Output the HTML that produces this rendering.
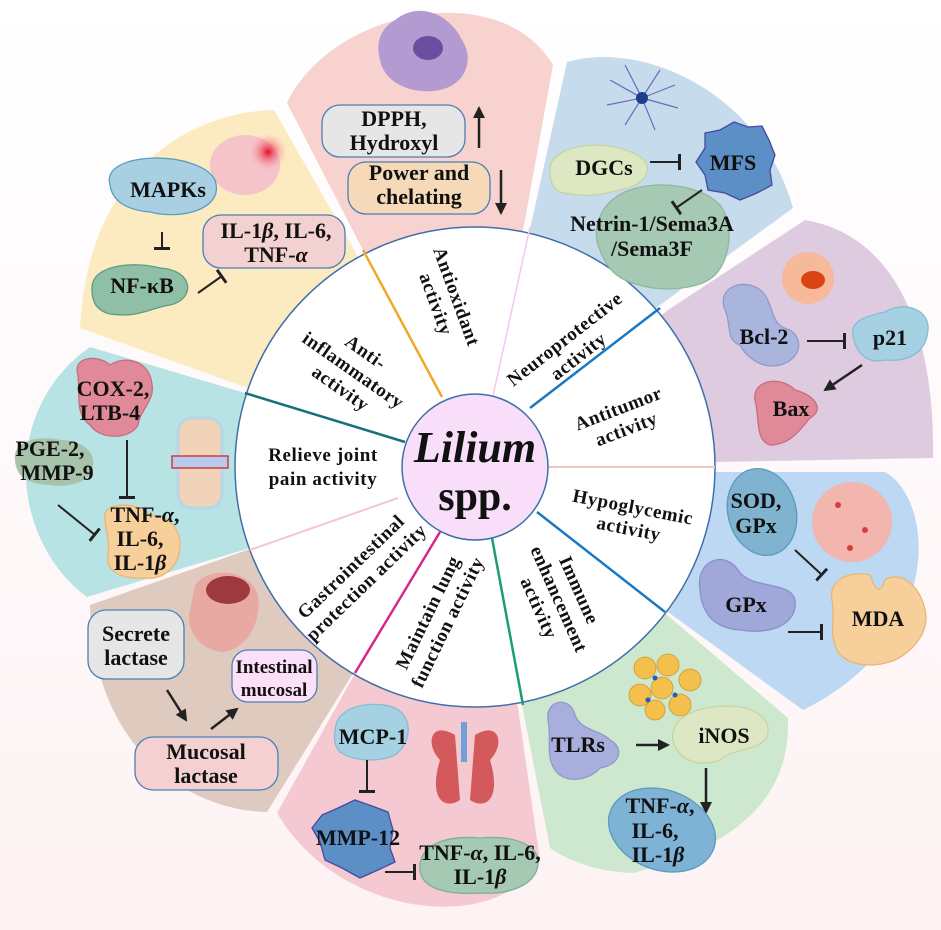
<!DOCTYPE html>
<html><head><meta charset="utf-8"><style>
html,body{margin:0;padding:0;background:#fff}
svg{display:block}
text{font-family:"Liberation Serif",serif;font-weight:bold;fill:#111}
</style></head><body>
<svg width="941" height="930" viewBox="0 0 941 930" xmlns="http://www.w3.org/2000/svg">
<defs>
<linearGradient id="bg" x1="0" y1="0" x2="0" y2="1"><stop offset="0" stop-color="#ffffff"/><stop offset="0.4" stop-color="#fefafb"/><stop offset="1" stop-color="#fdf2f4"/></linearGradient>
<radialGradient id="red" cx="0.5" cy="0.5" r="0.5"><stop offset="0" stop-color="#e8102a"/><stop offset="1" stop-color="#f7c6cc" stop-opacity="0"/></radialGradient>
<marker id="ar2" markerWidth="12" markerHeight="12" refX="10" refY="6" orient="auto" markerUnits="userSpaceOnUse"><path d="M0,0 L12,6 L0,12 Z" fill="#222"/></marker>
<marker id="bar" markerWidth="4" markerHeight="16" refX="2" refY="8" orient="auto" markerUnits="userSpaceOnUse"><rect x="0" y="0" width="3" height="16" fill="#222"/></marker>
</defs>
<rect width="941" height="930" fill="url(#bg)"/>

<!-- petals -->
<path d="M80,328 C88,170 190,112 274,110 L353,248 L475,467 L245,387 Z" fill="#fcebc0"/>
<path d="M287,103 C330,10 500,-25 553,65 L525,220 L475,467 Z" fill="#f7d2cf"/>
<path d="M567,62 C640,40 760,90 793,208 L660,305 L475,467 L532,220 Z" fill="#c6dbeb"/>
<path d="M668,310 L805,220 C895,235 935,330 933,458 L715,462 L475,467 Z" fill="#dfcbe0"/>
<path d="M717,472 L885,472 C935,500 945,640 803,710 L668,612 L475,467 Z" fill="#bcd8f3"/>
<path d="M667,615 L788,718 C790,780 760,840 633,873 C600,872 570,862 550,848 L522,705 L475,467 Z" fill="#cde8cf"/>
<path d="M353,677 L475,467 L518,708 L540,860 C500,935 340,920 277,813 Z" fill="#f4c9d1"/>
<path d="M90,605 L253,548 L475,467 L352,675 L267,812 C180,810 92,740 90,605 Z" fill="#dfcac0"/>
<path d="M90,347 L245,393 L475,467 L250,548 L87,597 C10,540 0,410 90,347 Z" fill="#b7e3e5"/>

<!-- wheel -->
<circle cx="475" cy="467" r="240" fill="#fff" stroke="#3f6fa8" stroke-width="1.5"/>
<g stroke-width="2.5">
<line x1="363" y1="250" x2="442" y2="397" stroke="#f2a72a"/>
<line x1="530" y1="227" x2="493" y2="396" stroke="#f3c6ef" stroke-width="1.5"/>
<line x1="660" y1="308" x2="530" y2="408" stroke="#1a78c2"/>
<line x1="548" y1="467" x2="715" y2="467" stroke="#f2c5c5" stroke-width="2"/>
<line x1="537" y1="512" x2="665" y2="612" stroke="#1a78c2"/>
<line x1="492" y1="538" x2="523" y2="705" stroke="#1b9e6e"/>
<line x1="440" y1="532" x2="355" y2="673" stroke="#d4288a"/>
<line x1="398" y1="498" x2="250" y2="550" stroke="#f3c8c8" stroke-width="2"/>
<line x1="245" y1="393" x2="405" y2="442" stroke="#16707a"/>
</g>
<circle cx="475" cy="467" r="73" fill="#f8def9" stroke="#3f6fa8" stroke-width="1.5"/>
<text x="475" y="462" font-size="44" font-style="italic" text-anchor="middle">Lilium</text>
<text x="475" y="510" font-size="42" text-anchor="middle">spp.</text>

<g font-size="19" text-anchor="middle" letter-spacing="0.6">
<g transform="translate(447,300) rotate(70)"><text x="0" y="-4">Antioxidant</text><text x="0" y="18">activity</text></g>
<g transform="translate(352,372) rotate(35)"><text x="0" y="-18">Anti-</text><text x="0" y="4">inflammatory</text><text x="0" y="26">activity</text></g>
<g transform="translate(571,347) rotate(-38)"><text x="0" y="-4">Neuroprotective</text><text x="0" y="18">activity</text></g>
<g transform="translate(622,418) rotate(-21)"><text x="0" y="-4">Antitumor</text><text x="0" y="18">activity</text></g>
<g transform="translate(631,517) rotate(11)"><text x="0" y="-4">Hypoglycemic</text><text x="0" y="18">activity</text></g>
<g transform="translate(557,600) rotate(66)"><text x="0" y="-18">Immune</text><text x="0" y="4">enhancement</text><text x="0" y="26">activity</text></g>
<g transform="translate(437,617) rotate(-64)"><text x="0" y="-4">Maintain lung</text><text x="0" y="18">function activity</text></g>
<g transform="translate(358,574) rotate(-44)"><text x="0" y="-4">Gastrointestinal</text><text x="0" y="18">protection activity</text></g>
<g transform="translate(323,467)"><text x="0" y="-6">Relieve joint</text><text x="0" y="18">pain activity</text></g>
</g>

<g font-size="22" text-anchor="middle" stroke-width="1.3">
<!-- Anti-inflammatory -->
<ellipse cx="245" cy="165" rx="35" ry="30" fill="#f4c4c9"/><circle cx="268" cy="152" r="20" fill="url(#red)"/>
<path d="M110,185 C100,150 200,150 215,180 C225,210 180,220 150,212 C125,210 112,200 110,185 Z" fill="#a8cfe2" stroke="#5d9cc4"/>
<text x="168" y="197">MAPKs</text>
<line x1="162" y1="232" x2="162" y2="249" stroke="#222" stroke-width="2" marker-end="url(#bar)"/>
<path d="M92,290 C90,262 140,262 160,268 C195,270 195,300 170,305 C150,308 140,318 110,314 C95,310 92,300 92,290 Z" fill="#8fbfa6" stroke="#5d9c80"/>
<text x="142" y="293">NF-κB</text>
<line x1="198" y1="293" x2="222" y2="276" stroke="#222" stroke-width="2" marker-end="url(#bar)"/>
<rect x="203" y="215" width="142" height="53" rx="18" fill="#f4d1d1" stroke="#4a7fb5"/>
<text x="276" y="238">IL-1<tspan font-style="italic">β</tspan>, IL-6,</text>
<text x="276" y="262">TNF-<tspan font-style="italic">α</tspan></text>

<!-- Antioxidant -->
<path d="M395,20 C420,0 450,15 462,40 C475,60 465,85 440,90 C415,95 385,85 380,60 C375,40 382,28 395,20 Z" fill="#b39bd2"/>
<ellipse cx="428" cy="48" rx="15" ry="12" fill="#6a4ea0"/>
<rect x="322" y="105" width="143" height="52" rx="18" fill="#e6e6e6" stroke="#4a7fb5"/>
<text x="394" y="126">DPPH,</text><text x="394" y="150">Hydroxyl</text>
<line x1="479" y1="148" x2="479" y2="108" stroke="#222" stroke-width="2.5" marker-end="url(#ar2)"/>
<rect x="348" y="162" width="142" height="52" rx="18" fill="#f6d9b9" stroke="#4a7fb5"/>
<text x="419" y="180">Power and</text><text x="419" y="204">chelating</text>
<line x1="501" y1="170" x2="501" y2="213" stroke="#222" stroke-width="2.5" marker-end="url(#ar2)"/>

<!-- Neuro -->
<g stroke="#6b6bbf" stroke-width="1.2" fill="none"><path d="M642,98 L610,80 M642,98 L625,65 M642,98 L660,70 M642,98 L675,85 M642,98 L678,108 M642,98 L655,130 M642,98 L625,125 M642,98 L607,105"/></g>
<circle cx="642" cy="98" r="6" fill="#1d3e8c"/>
<path d="M600,250 C590,230 600,200 630,190 C660,180 700,185 720,205 C735,225 730,260 715,275 C700,290 660,292 640,285 C615,280 605,265 600,250 Z" fill="#a6c9b3" stroke="#8fb8a0"/>
<path d="M550,170 C550,145 600,140 625,150 C660,160 650,185 620,190 C600,195 585,198 560,192 C552,188 550,180 550,170 Z" fill="#dde8c3" stroke="#c4d4a0"/>
<text x="604" y="175">DGCs</text>
<line x1="650" y1="162" x2="680" y2="162" stroke="#222" stroke-width="2" marker-end="url(#bar)"/>
<path d="M734,122 L748,127 L762,126 L769,140 L775,155 L770,170 L772,185 L757,193 L740,200 L725,193 L708,190 L705,175 L696,162 L705,148 L705,133 L720,130 Z" fill="#5b8fc6" stroke="#4848a0"/>
<text x="733" y="170">MFS</text>
<line x1="702" y1="190" x2="676" y2="208" stroke="#222" stroke-width="2" marker-end="url(#bar)"/>
<text x="652" y="231">Netrin-1/Sema3A</text><text x="652" y="256">/Sema3F</text>

<!-- Antitumor -->
<circle cx="808" cy="278" r="26" fill="#f6b99a"/><ellipse cx="813" cy="280" rx="12" ry="9" fill="#d94512"/>
<path d="M725,310 C715,285 750,275 765,295 C775,310 770,325 790,330 C805,340 800,360 780,365 C760,370 745,355 740,345 C725,340 732,325 725,310 Z" fill="#a9b5dc" stroke="#8e9acc"/>
<text x="764" y="344">Bcl-2</text>
<line x1="807" y1="341" x2="845" y2="341" stroke="#222" stroke-width="2" marker-end="url(#bar)"/>
<path d="M853,335 C850,320 870,315 885,312 C905,300 930,310 928,330 C926,355 905,362 885,360 C865,365 855,350 853,335 Z" fill="#a5d1e2" stroke="#86bcd4"/>
<text x="890" y="345">p21</text>
<line x1="862" y1="365" x2="825" y2="390" stroke="#222" stroke-width="2.5" marker-end="url(#ar2)"/>
<path d="M755,400 C752,380 780,375 795,390 C815,395 825,410 810,418 C800,430 790,445 770,445 C755,440 760,420 755,400 Z" fill="#e08a99" stroke="#c96b7c"/>
<text x="791" y="416">Bax</text>

<!-- Hypoglycemic -->
<ellipse cx="762" cy="512" rx="34" ry="44" fill="#7fb3cf" stroke="#5a9abe" transform="rotate(-15 762 512)"/>
<text x="756" y="508">SOD,</text><text x="756" y="533">GPx</text>
<circle cx="852" cy="522" r="40" fill="#f2b6ae"/>
<g fill="#d63e3e"><circle cx="838" cy="505" r="3"/><circle cx="865" cy="530" r="3"/><circle cx="850" cy="548" r="3"/></g>
<path d="M700,590 C695,560 725,550 738,570 C750,590 790,580 795,600 C798,625 770,635 740,630 C715,628 702,615 700,590 Z" fill="#a0a8d9" stroke="#8890c8"/>
<text x="746" y="612">GPx</text>
<line x1="795" y1="550" x2="822" y2="575" stroke="#222" stroke-width="2" marker-end="url(#bar)"/>
<line x1="788" y1="632" x2="822" y2="632" stroke="#222" stroke-width="2" marker-end="url(#bar)"/>
<path d="M832,600 C828,580 850,570 870,575 C875,590 880,595 885,580 C900,570 920,585 925,610 C930,630 915,650 895,660 C870,670 840,665 835,645 C830,630 835,615 832,600 Z" fill="#f6cf9b" stroke="#e8b677"/>
<text x="878" y="626">MDA</text>

<!-- Immune -->
<g fill="#f4bf4a" stroke="#c89a3a" stroke-width="0.8"><circle cx="645" cy="668" r="11"/><circle cx="668" cy="665" r="11"/><circle cx="690" cy="680" r="11"/><circle cx="662" cy="688" r="11"/><circle cx="640" cy="695" r="11"/><circle cx="680" cy="705" r="11"/><circle cx="655" cy="710" r="10"/></g>
<g fill="#1e5fb5"><circle cx="655" cy="678" r="2.5"/><circle cx="675" cy="695" r="2.5"/><circle cx="648" cy="700" r="2.5"/></g>
<path d="M548,720 C545,700 570,695 575,715 C580,730 600,730 610,740 C625,748 620,765 600,768 C590,780 565,785 555,770 C545,755 552,740 548,720 Z" fill="#a9afdc" stroke="#9198cc"/>
<text x="578" y="752">TLRs</text>
<line x1="636" y1="745" x2="668" y2="745" stroke="#222" stroke-width="2.5" marker-end="url(#ar2)"/>
<path d="M673,740 C670,715 700,706 730,706 C760,706 775,725 765,740 C755,750 730,750 720,760 C700,768 676,760 673,740 Z" fill="#dee7c4" stroke="#c7d4a4"/>
<text x="724" y="743">iNOS</text>
<line x1="706" y1="768" x2="706" y2="812" stroke="#222" stroke-width="2.5" marker-end="url(#ar2)"/>
<ellipse cx="662" cy="830" rx="55" ry="40" fill="#7fb3d6" stroke="#5a9abe" transform="rotate(20 662 830)"/>
<text x="660" y="813">TNF-<tspan font-style="italic">α</tspan>,</text><text x="655" y="838">IL-6,</text><text x="658" y="862">IL-1<tspan font-style="italic">β</tspan></text>

<!-- Lung -->
<path d="M440,760 C425,745 430,720 455,735 L460,800 C445,810 428,800 440,760 Z" fill="#d4595c"/>
<path d="M490,760 C505,745 500,720 475,735 L470,800 C485,810 502,800 490,760 Z" fill="#d4595c"/>
<rect x="461" y="722" width="6" height="40" fill="#6fa0d8"/>
<path d="M336,725 C340,705 375,700 395,708 C415,718 410,745 395,755 C380,762 355,762 340,752 C333,745 334,735 336,725 Z" fill="#a5d1e2" stroke="#86bcd4"/>
<text x="373" y="744">MCP-1</text>
<line x1="367" y1="760" x2="367" y2="792" stroke="#222" stroke-width="2" marker-end="url(#bar)"/>
<path d="M355,800 L372,806 L388,812 L393,830 L390,848 L395,862 L378,870 L360,878 L342,868 L325,860 L320,842 L312,828 L322,815 L338,808 Z" fill="#5b8fc6" stroke="#4848a0"/>
<text x="358" y="845">MMP-12</text>
<line x1="385" y1="872" x2="415" y2="872" stroke="#222" stroke-width="2" marker-end="url(#bar)"/>
<path d="M420,870 C418,845 445,835 480,838 C515,835 540,845 538,865 C535,885 510,895 480,893 C450,895 422,890 420,870 Z" fill="#a6c9b3" stroke="#7fb09a"/>
<text x="480" y="860">TNF-<tspan font-style="italic">α</tspan>, IL-6,</text><text x="480" y="884">IL-1<tspan font-style="italic">β</tspan></text>

<!-- GI -->
<path d="M195,585 C210,565 250,570 258,595 C262,625 245,650 222,652 C200,650 185,630 190,610 Z" fill="#e8a9a3"/>
<ellipse cx="228" cy="590" rx="22" ry="14" fill="#9e3a3e"/>
<rect x="88" y="610" width="96" height="69" rx="18" fill="#e6e6e6" stroke="#4a7fb5"/>
<text x="136" y="641">Secrete</text><text x="136" y="665">lactase</text>
<rect x="232" y="650" width="85" height="52" rx="16" fill="#fce0f8" stroke="#4a7fb5"/>
<text x="274" y="673" font-size="19">Intestinal</text><text x="274" y="696" font-size="19">mucosal</text>
<line x1="167" y1="690" x2="186" y2="720" stroke="#222" stroke-width="2.5" marker-end="url(#ar2)"/>
<line x1="211" y1="729" x2="237" y2="709" stroke="#222" stroke-width="2.5" marker-end="url(#ar2)"/>
<rect x="135" y="737" width="143" height="53" rx="18" fill="#f4d0d0" stroke="#4a7fb5"/>
<text x="206" y="759">Mucosal</text><text x="206" y="783">lactase</text>

<!-- Joint -->
<rect x="178" y="418" width="44" height="90" rx="14" fill="#f0d3b8" stroke="#b9d5e6" stroke-width="3"/>
<rect x="172" y="456" width="56" height="12" fill="#b8cbee" stroke="#d23a3a" stroke-width="1.5"/>
<path d="M78,375 C72,355 100,355 110,365 C125,355 150,360 152,385 C155,400 140,410 138,425 C130,440 100,440 90,425 C75,415 80,395 78,375 Z" fill="#e08a99" stroke="#c96b7c"/>
<text x="113" y="396">COX-2,</text><text x="110" y="420">LTB-4</text>
<path d="M15,460 C12,440 40,435 60,440 C85,440 98,455 92,470 C88,482 70,488 50,485 C25,484 16,475 15,460 Z" fill="#a8c3ab"/>
<text x="50" y="456">PGE-2,</text><text x="57" y="480">MMP-9</text>
<line x1="127" y1="440" x2="127" y2="498" stroke="#222" stroke-width="2" marker-end="url(#bar)"/>
<line x1="58" y1="505" x2="95" y2="535" stroke="#222" stroke-width="2" marker-end="url(#bar)"/>
<path d="M105,520 C100,500 140,502 150,515 C165,515 180,525 180,545 C180,565 165,580 145,578 C120,580 105,570 108,555 C110,540 106,532 105,520 Z" fill="#f6cf9b" stroke="#e8b677"/>
<text x="145" y="522">TNF-<tspan font-style="italic">α</tspan>,</text><text x="140" y="546">IL-6,</text><text x="140" y="570">IL-1<tspan font-style="italic">β</tspan></text>
</g>
</svg>
</body></html>
